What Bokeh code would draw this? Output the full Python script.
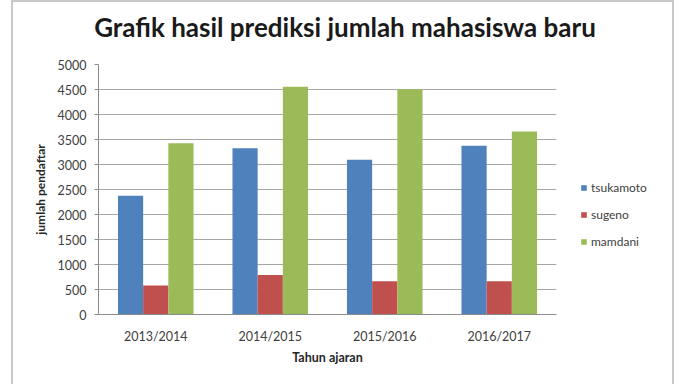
from bokeh.plotting import figure
from bokeh.layouts import row, column
from bokeh.models import (ColumnDataSource, FactorRange, Range1d, FixedTicker,
                          Legend, LegendItem)
from bokeh.transform import dodge
from bokeh.embed import file_html
from bokeh.resources import INLINE

title_text = "Grafik hasil prediksi jumlah mahasiswa baru"
years = ["2013/2014", "2014/2015", "2015/2016", "2016/2017"]
tsukamoto = [2375, 3327, 3094, 3373]
sugeno = [579, 792, 665, 665]
mamdani = [3427, 4557, 4505, 3659]
series_names = ["tsukamoto", "sugeno", "mamdani"]
series_colors = ["#4F81BD", "#C0504D", "#9BBB59"]
y_ticks = [0, 500, 1000, 1500, 2000, 2500, 3000, 3500, 4000, 4500, 5000]

BORDER = "2px solid #c8c8c8"

source = ColumnDataSource(dict(year=years, tsukamoto=tsukamoto,
                               sugeno=sugeno, mamdani=mamdani))

# ---- title strip (spans the whole chart width) ----
tf = figure(width=663, height=56, output_backend="svg", toolbar_location=None,
            x_axis_type=None, y_axis_type=None, title=title_text,
            min_border_left=0, min_border_right=0,
            min_border_top=0, min_border_bottom=0)
tf.frame_align = False
tf.margin = (0, 0, 0, 11)
tf.styles = {"border-left": BORDER, "border-top": BORDER, "border-right": BORDER}
tf.outline_line_color = None
tf.xgrid.grid_line_color = None
tf.ygrid.grid_line_color = None
tf.title.align = "center"
tf.title.vertical_align = "top"
tf.title.standoff = 16
tf.title.text_font = "Lato"
tf.title.text_font_size = "26px"
tf.title.text_font_style = "bold"
tf.title.text_color = "#1a1a1a"

# ---- main chart ----
p = figure(width=552, height=328, output_backend="svg", toolbar_location=None,
           x_range=FactorRange(*years, range_padding=0),
           y_range=Range1d(0, 5000),
           min_border_left=85, min_border_right=9,
           min_border_top=8, min_border_bottom=70)
p.margin = (0, 0, 0, 11)
p.styles = {"border-left": BORDER}

w = 0.22
offsets = [-w, 0, w]
for name, col, off in zip(series_names, series_colors, offsets):
    p.vbar(x=dodge("year", off, range=p.x_range), top=name, width=w,
           source=source, fill_color=col, line_color=None)

p.yaxis.ticker = FixedTicker(ticks=y_ticks)
p.yaxis.axis_label = "jumlah pendaftar"
p.yaxis.axis_label_text_font = "Lato"
p.yaxis.axis_label_text_font_style = "bold"
p.yaxis.axis_label_text_font_size = "12px"
p.yaxis.axis_label_text_color = "#262626"
p.yaxis.axis_label_standoff = 7
p.yaxis.major_label_text_font = "Lato"
p.yaxis.major_label_text_font_size = "12.5px"
p.yaxis.major_label_text_color = "#404040"
p.yaxis.major_label_standoff = 8
p.yaxis.major_tick_out = 4
p.yaxis.major_tick_in = 0
p.yaxis.minor_tick_line_color = None
p.yaxis.axis_line_color = "#8c8c8c"
p.yaxis.major_tick_line_color = "#8c8c8c"

p.xaxis.axis_label = "Tahun ajaran"
p.xaxis.axis_label_text_font = "Lato"
p.xaxis.axis_label_text_font_style = "bold"
p.xaxis.axis_label_text_font_size = "12.5px"
p.xaxis.axis_label_text_color = "#262626"
p.xaxis.axis_label_standoff = 3
p.xaxis.major_label_text_font = "Lato"
p.xaxis.major_label_text_font_size = "12.5px"
p.xaxis.major_label_text_color = "#404040"
p.xaxis.major_label_standoff = 8
p.xaxis.major_tick_line_color = None
p.xaxis.axis_line_color = "#8c8c8c"

p.xgrid.grid_line_color = None
p.ygrid.grid_line_color = "#a6a6a6"
p.ygrid.grid_line_width = 1.2
p.outline_line_color = None

# ---- legend panel ----
q = figure(width=111, height=328, output_backend="svg", toolbar_location=None,
           x_axis_type=None, y_axis_type=None,
           min_border_left=0, min_border_right=0,
           min_border_top=0, min_border_bottom=0)
q.styles = {"border-right": BORDER}
q.outline_line_color = None
q.xgrid.grid_line_color = None
q.ygrid.grid_line_color = None
items = []
for name, col in zip(series_names, series_colors):
    rr = q.vbar(x=[0], top=[0], width=1, fill_color=col, line_color=None,
                visible=False)
    items.append(LegendItem(label=name, renderers=[rr]))

legend = Legend(items=items, location=(17, 65), orientation="vertical",
                glyph_width=7, glyph_height=7, label_height=14, spacing=12,
                label_standoff=4, padding=0, margin=0,
                inactive_fill_alpha=0,
                border_line_color=None, background_fill_alpha=0,
                label_text_font="Lato", label_text_font_size="12px",
                label_text_color="#404040")
q.add_layout(legend, "center")

layout = column(tf, row(p, q))
open("out.html", "w").write(file_html(layout, INLINE))
